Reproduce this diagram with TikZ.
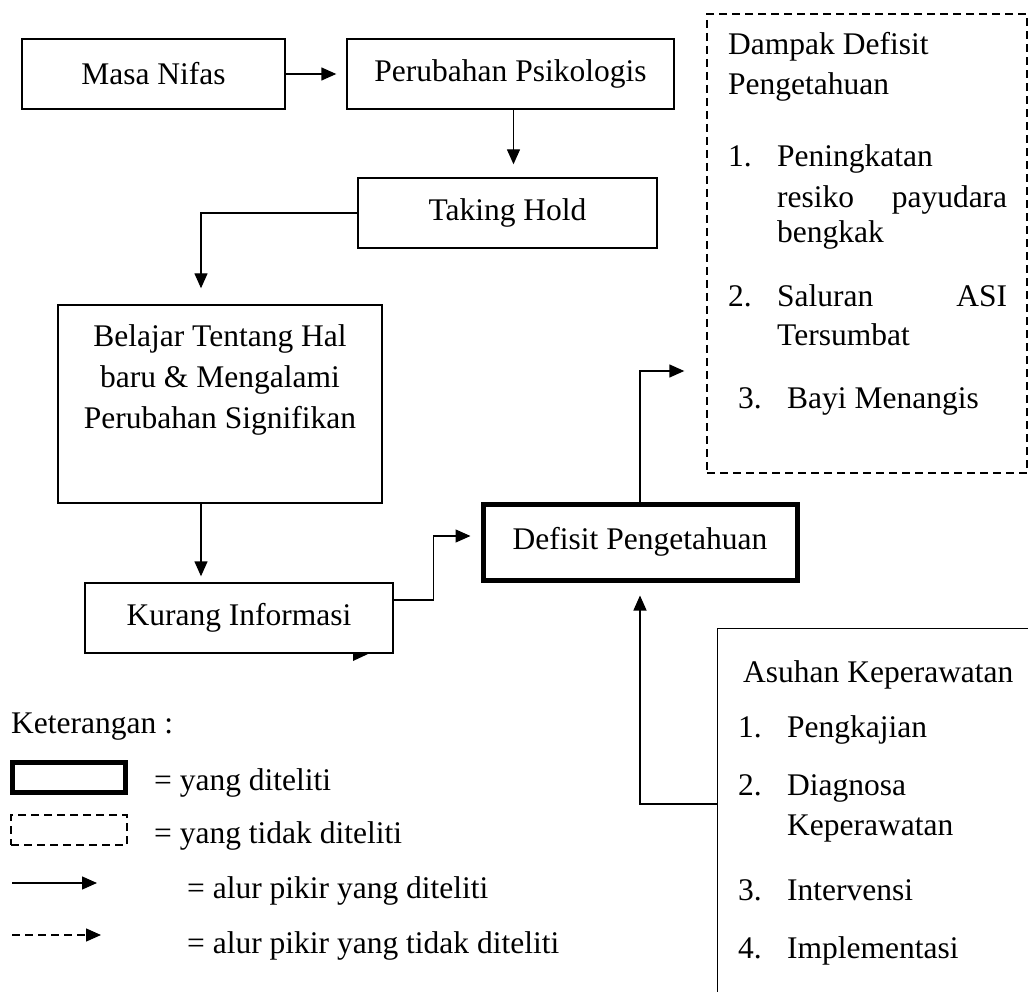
\documentclass[tikz,border=0pt]{standalone}
\usepackage{fontspec}
\setmainfont{Liberation Serif}
\usetikzlibrary{arrows.meta}

\tikzset{
	kotak/.style={draw, line width=1.4pt, inner sep=0pt},
	kotaktebal/.style={draw, line width=5pt, inner sep=0pt},
	kotakputus/.style={draw, line width=1.4pt, dash pattern=on 8pt off 5pt, inner sep=0pt},
	panah/.style={line width=1.4pt, -{Triangle[length=15pt,width=13pt]}},
	teks/.style={anchor=base west, inner sep=0pt},
}

\begin{document}
\begin{tikzpicture}[x=1pt, y=-1pt, font=\fontsize{31.5}{41}\selectfont]
	\path[use as bounding box, clip] (0,0) rectangle (1028,992);
	
	% Alur utama
	\node[kotak, minimum width=263pt, minimum height=70pt] (masa) at (153.5,74) {Masa Nifas};
	\node[kotak, minimum width=327pt, minimum height=70pt] (psikologis) at (510.5,74) {Perubahan Psikologis};
	\node[kotak, minimum width=299pt, minimum height=70pt] (takinghold) at (507.5,213) {Taking Hold};
	\node[kotak, minimum width=324pt, minimum height=198pt] (belajar) at (220,404) {};
	\node[align=center, inner sep=0pt] (belajarteks) at (220,380) {Belajar Tentang Hal\\baru \& Mengalami\\Perubahan Signifikan};
	\node[kotak, minimum width=308pt, minimum height=70pt] (kurang) at (239,618) {Kurang Informasi};
	\node[kotaktebal, minimum width=314pt, minimum height=76pt] (defisit) at (640,542) {Defisit Pengetahuan};
	
	% Dampak (tidak diteliti)
	\node[kotakputus, minimum width=320pt, minimum height=459pt] (dampak) at (867,243.5) {};
	\node[teks] (dampak1) at (728,55) {Dampak Defisit};
	\node[teks] (dampak2) at (728,95) {Pengetahuan};
	\node[teks] (dn1) at (728,167) {1.};
	\node[teks] (d1a) at (777,167) {Peningkatan};
	\node[teks] (d1b) at (777,208) {\hbox to 230pt{resiko\hfill payudara}};
	\node[teks] (d1c) at (777,243) {bengkak};
	\node[teks] (dn2) at (728,307) {2.};
	\node[teks] (d2a) at (777,307) {\hbox to 230pt{Saluran\hfill ASI}};
	\node[teks] (d2b) at (777,345) {Tersumbat};
	\node[teks] (dn3) at (738,408) {3.};
	\node[teks] (d3a) at (787,408) {Bayi Menangis};
	
	% Asuhan Keperawatan
	\node[kotak, anchor=north west, minimum width=340pt, minimum height=400pt] (asuhan) at (717,628) {};
	\node[teks] (asuhan0) at (743,682) {Asuhan Keperawatan};
	\node[teks] (an1) at (738,737) {1.};
	\node[teks] (a1) at (787,737) {Pengkajian};
	\node[teks] (an2) at (738,795) {2.};
	\node[teks] (a2a) at (787,795) {Diagnosa};
	\node[teks] (a2b) at (787,835) {Keperawatan};
	\node[teks] (an3) at (738,900) {3.};
	\node[teks] (a3) at (787,900) {Intervensi};
	\node[teks] (an4) at (738,958) {4.};
	\node[teks] (a4) at (787,958) {Implementasi};
	
	% Panah
	\draw[panah, shorten >=10pt] (masa.east) -- (psikologis.west);
	\draw[panah, shorten >=13pt] ([xshift=3pt]psikologis.south) -- ([xshift=3pt]psikologis.south |- takinghold.north);
	\draw[panah, shorten >=16pt] (takinghold.west) -| ([xshift=-19pt]belajar.north);
	\draw[panah, shorten >=6pt] ([xshift=-19pt]belajar.south) -- ([xshift=-19pt]belajar.south |- kurang.north);
	\draw[panah, shorten >=10pt] ([yshift=18pt]kurang.east) -- ++(40,0) |- ([yshift=6pt]defisit.west);
	\draw[panah, shorten >=22pt] (defisit.north) |- ([yshift=-127.5pt]dampak.west);
	\draw[panah, shorten >=13pt] ([yshift=-176pt]asuhan.north west) -| (defisit.south);
	\fill (353,654) -- (368,654) -- (353,661) -- cycle;
	
	% Keterangan
	\node[teks] (ket) at (11,733) {Keterangan :};
	\node[kotaktebal, minimum width=113pt, minimum height=30pt] (lgtebal) at (69,777.5) {};
	\node[teks] (lgtebalteks) at (154,790) {= yang diteliti};
	\node[kotakputus, minimum width=116pt, minimum height=30pt] (lgputus) at (69,830) {};
	\node[teks] (lgputusteks) at (154,843) {= yang tidak diteliti};
	\coordinate (lgA) at (12,883);
	\coordinate (lgB) at (97,883);
	\draw[panah] (lgA) -- (lgB);
	\node[teks] (lgAteks) at (187,898) {= alur pikir yang diteliti};
	\coordinate (lgC) at (12,935);
	\coordinate (lgD) at (101,935);
	\draw[panah, dash pattern=on 8pt off 5pt] (lgC) -- (lgD);
	\node[teks] (lgCteks) at (187,953) {= alur pikir yang tidak diteliti};
\end{tikzpicture}
\end{document}
